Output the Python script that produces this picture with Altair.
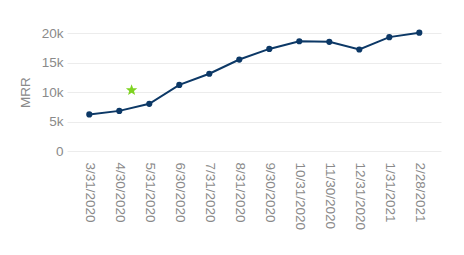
import math
import altair as alt
import pandas as pd

dates = ["3/31/2020", "4/30/2020", "5/31/2020", "6/30/2020", "7/31/2020", "8/31/2020",
         "9/30/2020", "10/31/2020", "11/30/2020", "12/31/2020", "1/31/2021", "2/28/2021"]
mrr = [6200, 6800, 8000, 11200, 13100, 15500, 17300, 18600, 18500, 17200, 19300, 20050]
star_pos = [1.41]
star_val = [10400]

df = pd.DataFrame({
    "idx": [float(i) for i in range(len(dates))] + star_pos,
    "mrr": mrr + star_val,
    "kind": ["line"] * len(dates) + ["star"] * len(star_pos),
})

# five-pointed star symbol path in the [-1, 1] box
pts_path = []
for k in range(10):
    r = 1.0 if k % 2 == 0 else 0.42
    a = math.radians(-90 + 36 * k)
    pts_path.append("%.3f,%.3f" % (r * math.cos(a), r * math.sin(a) + 0.095))
star_path = "M" + "L".join(pts_path) + "Z"

label_expr = "[" + ",".join("'%s'" % d for d in dates) + "][datum.value]"

xscale = alt.Scale(domain=[-0.743, len(dates) - 1 + 0.723], nice=False, zero=False)
yscale = alt.Scale(domain=[0, 20000], nice=False)

xaxis = alt.Axis(values=list(range(len(dates))), labelExpr=label_expr, labelAngle=90,
                 labelAlign="left", labelBaseline="middle", labelOverlap=False,
                 grid=False, ticks=False, domain=False, title=None, labelPadding=11,
                 labelColor="#8a8a8a", labelFontSize=13.5, labelFont="Liberation Sans")
yaxis = alt.Axis(values=[0, 5000, 10000, 15000, 20000],
                 labelExpr="datum.value == 0 ? '0' : (datum.value / 1000) + 'k'",
                 title="MRR", labelOverlap=False,
                 ticks=False, domain=False, gridColor="#ececec", labelPadding=4,
                 labelColor="#8a8a8a", labelFontSize=13.5, labelFont="Liberation Sans",
                 titleColor="#8a8a8a", titleFontSize=13.5, titleFont="Liberation Sans",
                 titleFontWeight="normal", titlePadding=9)

base = alt.Chart(df).encode(
    x=alt.X("idx:Q", scale=xscale, axis=xaxis),
    y=alt.Y("mrr:Q", scale=yscale, axis=yaxis),
)
line = base.transform_filter("datum.kind == 'line'").mark_line(color="#0c3866", strokeWidth=2)
pts = base.transform_filter("datum.kind == 'line'").mark_circle(color="#0c3866", size=38, opacity=1)
st = base.transform_filter("datum.kind == 'star'").mark_point(
    shape=star_path, filled=True, color="#7ed321", size=144, opacity=1)

chart = (line + pts + st).properties(
    width=374, height=118,
    background="white",
    autosize=alt.AutoSizeParams(type="none"),
    padding={"left": 67, "top": 33, "right": 23, "bottom": 104},
).configure_view(stroke=None)

chart.save("out.html", embed_options={"renderer": "svg", "actions": False})
